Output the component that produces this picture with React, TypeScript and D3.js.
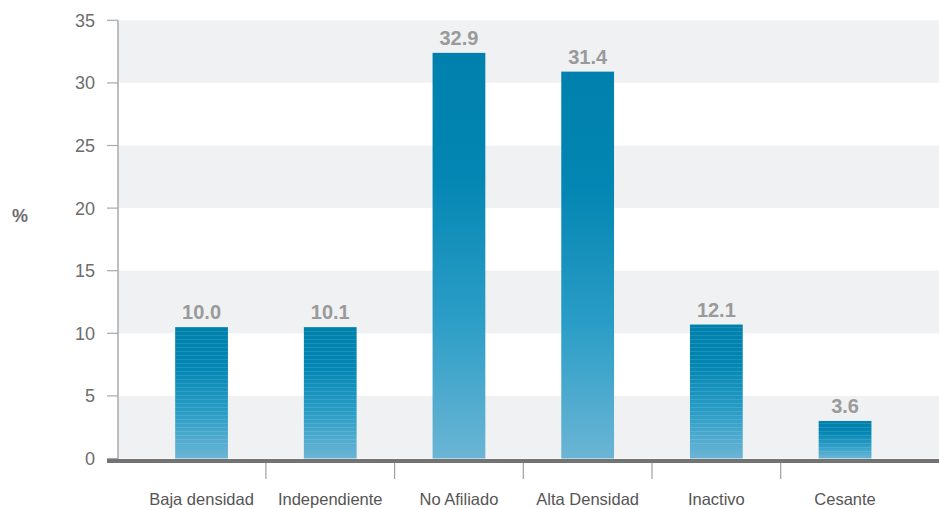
import React from "react";
import * as d3 from "d3";

const categories = ["Baja densidad", "Independiente", "No Afiliado", "Alta Densidad", "Inactivo", "Cesante"];
const valueLabels = [10.0, 10.1, 32.9, 31.4, 12.1, 3.6];
const barHeights = [10.5, 10.5, 32.4, 30.9, 10.7, 3.0];
const yTicks = [0, 5, 10, 15, 20, 25, 30, 35];

const W = 939;
const H = 508;

export default function App() {
  const y = d3.scaleLinear().domain([0, 35]).range([458.5, 20.3]);
  const x = d3
    .scaleBand<string>()
    .domain(categories)
    .range([137.2, 909.4])
    .paddingInner(0.59)
    .paddingOuter(0.295);
  const step = x.step();
  const plotLeft = 118;
  const font = "'Liberation Sans', Arial, Helvetica, sans-serif";
  const greyBands = [0, 10, 20, 30];

  return (
    <svg
      width={W}
      height={H}
      style={{ position: "absolute", left: 0, top: 0, fontFamily: font }}
    >
      <defs>
        <linearGradient id="barGrad" x1="0" y1="0" x2="0" y2="1">
          <stop offset="0" stopColor="#0080ad" />
          <stop offset="0.3" stopColor="#0386b3" />
          <stop offset="0.65" stopColor="#2a9dc6" />
          <stop offset="1" stopColor="#6bb5d5" />
        </linearGradient>
        <pattern id="stripes" width="4" height="4" patternUnits="userSpaceOnUse">
          <rect x="0" y="3" width="4" height="0.6" fill="#ffffff" opacity="0.18" />
        </pattern>
      </defs>
      {greyBands.map((v) => (
        <rect
          key={"b" + v}
          x={plotLeft + 1}
          y={y(v + 5)}
          width={W - plotLeft - 1}
          height={y(v) - y(v + 5)}
          fill="#f0f1f3"
        />
      ))}
      {/* y axis */}
      <line x1={plotLeft} x2={plotLeft} y1={y(35)} y2={y(0) + 2} stroke="#a8a8a8" strokeWidth={1.5} />
      {yTicks.map((t) => (
        <g key={"t" + t}>
          <line x1={107} x2={plotLeft} y1={y(t)} y2={y(t)} stroke="#a8a8a8" strokeWidth={1.2} />
          <text x={95} y={y(t)} dy="0.36em" textAnchor="end" fontSize={18} fill="#6d6d6d">
            {t}
          </text>
        </g>
      ))}
      <text x={20} y={216} dy="0.36em" textAnchor="middle" fontSize={18} fontWeight="bold" fill="#6d6d6d">
        %
      </text>
      {/* bars */}
      {categories.map((c, i) => {
        const x0 = x(c) as number;
        const top = y(barHeights[i]);
        const h = y(0) - top;
        return (
          <g key={c}>
            <rect x={x0} y={top} width={x.bandwidth()} height={h} fill="url(#barGrad)" />
            {barHeights[i] < 15 && (
              <rect x={x0} y={top} width={x.bandwidth()} height={h * 0.9} fill="url(#stripes)" />
            )}
            <text
              x={x0 + x.bandwidth() / 2}
              y={top - 8}
              textAnchor="middle"
              fontSize={20}
              fontWeight="bold"
              fill="#9a9a9a"
            >
              {valueLabels[i].toFixed(1)}
            </text>
            <text
              x={x0 + x.bandwidth() / 2}
              y={505}
              textAnchor="middle"
              fontSize={16.5}
              fill="#555555"
            >
              {c}
            </text>
          </g>
        );
      })}
      {/* x axis */}
      <line x1={107} x2={W} y1={461} y2={461} stroke="#737373" strokeWidth={4} />
      {categories.slice(1).map((c) => {
        const xm = (x(c) as number) + x.bandwidth() / 2 - step / 2;
        return <line key={"xt" + c} x1={xm} x2={xm} y1={463} y2={479} stroke="#a0a0a0" strokeWidth={1.2} />;
      })}
    </svg>
  );
}
